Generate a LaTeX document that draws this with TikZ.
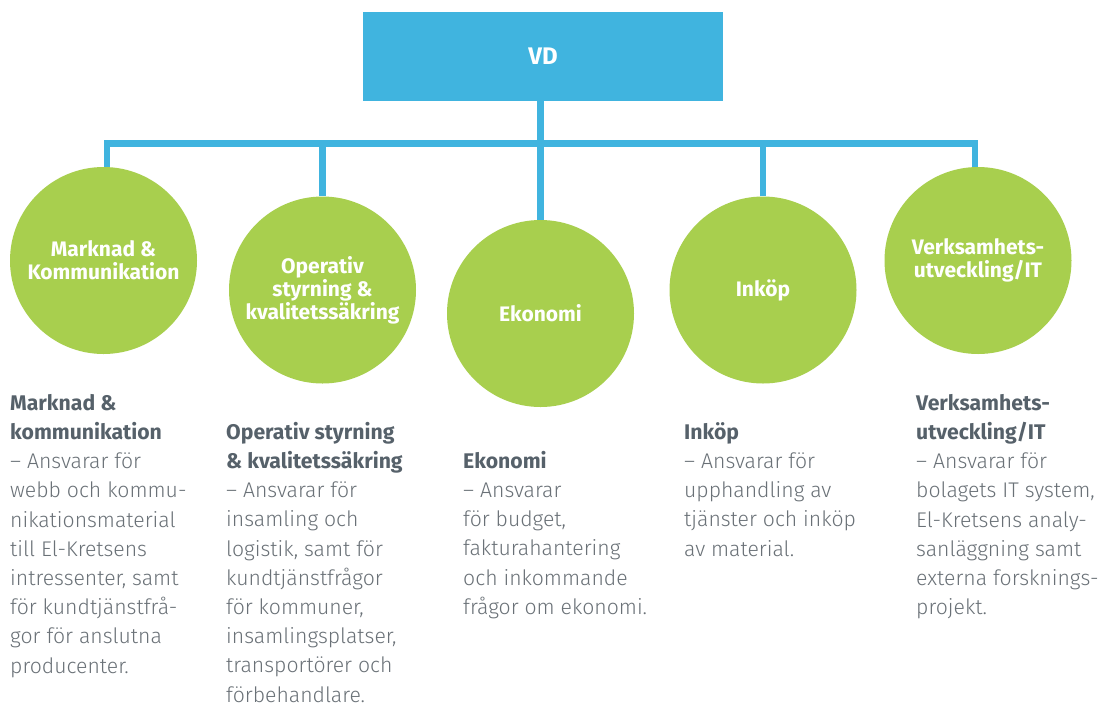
\documentclass[tikz,border=0pt]{standalone}
\usepackage{fontspec}
\setmainfont{Fira Sans}
\newfontfamily\bodyfont{Fira Sans Light}
\newfontfamily\headfamily{Fira Sans}
\definecolor{vdblue}{HTML}{40B4DF}
\definecolor{dgreen}{HTML}{A8CF4E}
\definecolor{headgrey}{HTML}{56616A}
\definecolor{bodygrey}{HTML}{6A7177}
\newcommand{\hdtxt}[1]{{\color{headgrey}\headfamily\bfseries #1}}
\begin{document}
\begin{tikzpicture}[x=1pt,y=-1pt,
  conn/.style={draw=vdblue, line width=6.6pt},
  dept/.style={circle, fill=dgreen, minimum size=187pt, inner sep=0pt, text=white,
    font=\fontsize{21}{23}\selectfont\bfseries, align=center},
  desc/.style={anchor=north west, inner sep=0pt, align=left, text=bodygrey,
    font=\bodyfont\fontsize{21.2}{29.2}\selectfont}]
\useasboundingbox[fill=white] (0,0) rectangle (1109,702);

\node[fill=vdblue, minimum width=360pt, minimum height=89pt, inner sep=0pt,
  text=white, font=\fontsize{24}{28}\selectfont\bfseries] (vd) at (543,56.5) {VD};

\node[dept] (c1) at (103.5,260.5) {Marknad \&\\Kommunikation};
\node[dept] (c2) at (322.5,290) {Operativ\\styrning \&\\kvalitetssäkring};
\node[dept] (c3) at (540.5,313.5) {Ekonomi};
\node[dept] (c4) at (763,290) {Inköp};
\node[dept] (c5) at (978,260.5) {Verksamhets-\\utveckling/IT};

\coordinate (bl) at (107,143.5);
\coordinate (br) at (975,143.5);
\draw[conn] (bl |- c1.north) -- (bl) -- (br) -- (br |- c5.north);
\draw[conn] (c2.north |- bl) -- (c2.north);
\draw[conn] (c4.north |- bl) -- (c4.north);
\draw[conn] (vd.south -| c3.north) -- (c3.north);

\node[desc] (d1) at (10,388) {\rule{0pt}{22pt}\hdtxt{Marknad \&}\\
  \hdtxt{kommunikation}\\
  – Ansvarar för\\
  webb och kommu-\\
  nikationsmaterial\\
  till El-Kretsens\\
  intressenter, samt\\
  för kundtjänstfrå-\\
  gor för anslutna\\
  producenter.};
\node[desc] (d2) at (226,417) {\rule{0pt}{22pt}\hdtxt{Operativ styrning}\\
  \hdtxt{\& kvalitetssäkring}\\
  – Ansvarar för\\
  insamling och\\
  logistik, samt för\\
  kundtjänstfrågor\\
  för kommuner,\\
  insamlingsplatser,\\
  transportörer och\\
  förbehandlare.};
\node[desc] (d3) at (463,446) {\rule{0pt}{22pt}\hdtxt{Ekonomi}\\
  – Ansvarar\\
  för budget,\\
  fakturahantering\\
  och inkommande\\
  frågor om ekonomi.};
\node[desc] (d4) at (684,417) {\rule{0pt}{22pt}\hdtxt{Inköp}\\
  – Ansvarar för\\
  upphandling av\\
  tjänster och inköp\\
  av material.};
\node[desc] (d5) at (916,388) {\rule{0pt}{22pt}\hdtxt{Verksamhets-}\\
  \hdtxt{utveckling/IT}\\
  – Ansvarar för\\
  bolagets IT system,\\
  El-Kretsens analy-\\
  sanläggning samt\\
  externa forsknings-\\
  projekt.};
\end{tikzpicture}
\end{document}
